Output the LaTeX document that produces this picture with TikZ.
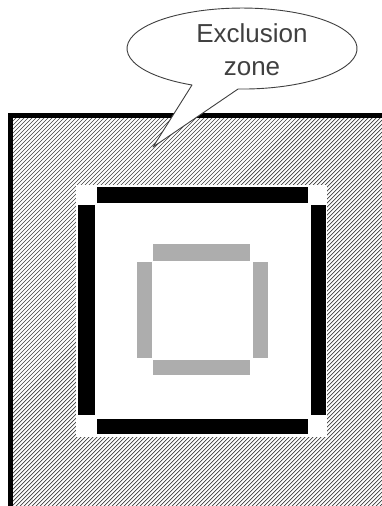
\documentclass[tikz,border=0pt]{standalone}
\usepackage{fontspec}
\setmainfont{Liberation Sans}
\begin{document}
\begin{tikzpicture}[x=1pt,y=-1pt,
  hatch/.style={line width=0.7pt, black!75},
  border/.style={line width=4.5pt, black},
  blackbar/.style={fill=black},
  greybar/.style={fill=black!32},
  bubble/.style={draw=black!75, line width=0.9pt, fill=white, line join=round},
  lbl/.style={font=\fontsize{26}{33}\selectfont, text=black!75, anchor=base, inner sep=0pt}]
\clip (0,0) rectangle (382,506);
\fill[white] (0,0) rectangle (382,506);
% hatched exclusion zone
\begin{scope}
  \clip (10.5,115.5) rectangle (420,530);
  \foreach \i in {-440,-436,...,420} \draw[hatch] (\i,530) -- ++(440,-440);
\end{scope}
\draw[border] (10.5,115.5) rectangle (420,530);
% inner clear area
\fill[white] (76,185) rectangle (327,437);
% black bars
\fill[blackbar] (97,187) rectangle (308,203);
\fill[blackbar] (97,419) rectangle (308,434);
\fill[blackbar] (78,205) rectangle (95,415);
\fill[blackbar] (311,205) rectangle (326,415);
% grey bars
\fill[greybar] (153,244) rectangle (250,261);
\fill[greybar] (153,360) rectangle (250,375);
\fill[greybar] (137,262) rectangle (152,358);
\fill[greybar] (253,262) rectangle (268,358);
% callout bubble with tail
\coordinate (tip) at (153,147);
\coordinate (base) at (192,85);
\draw[bubble] (base) arc[start angle=115.8, end angle=452, x radius=115, y radius=40.5] -- (tip) -- cycle;
\node[lbl] (l1) at (252,42) {Exclusion};
\node[lbl] (l2) at (252,75) {zone};
\end{tikzpicture}
\end{document}
